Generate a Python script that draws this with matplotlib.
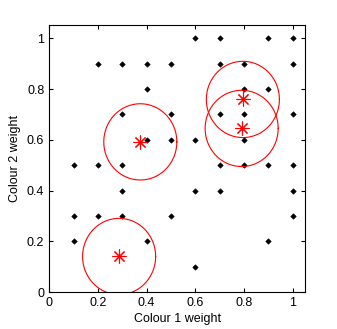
import numpy as np
import matplotlib
matplotlib.use('Agg')
import matplotlib.pyplot as plt

plt.rcParams['font.family'] = ['Liberation Sans', 'DejaVu Sans']

# Data points (colour 1 weight, colour 2 weight)
x_pts = [0.6, 0.7, 0.9, 1.0,
         0.2, 0.3, 0.4, 0.5, 0.7, 0.8, 1.0,
         0.4, 0.8, 0.9,
         0.3, 0.5, 0.7, 0.8, 1.0,
         0.4, 0.5, 0.6, 0.8,
         0.1, 0.2, 0.3, 0.7, 0.8, 0.9, 1.0,
         0.3, 0.6, 0.7, 1.0,
         0.1, 0.2, 0.3, 0.5, 1.0,
         0.1, 0.4, 0.9,
         0.6]
y_pts = [1.0] * 4 + [0.9] * 7 + [0.8] * 3 + [0.7] * 5 + [0.6] * 4 + \
        [0.5] * 7 + [0.4] * 4 + [0.3] * 5 + [0.2] * 3 + [0.1] * 1

# Cluster centres and radius
cx = [0.374, 0.795, 0.790, 0.287]
cy = [0.592, 0.759, 0.645, 0.141]
radius = 0.15

fig = plt.figure(figsize=(3.37, 3.29), dpi=100)
ax = fig.add_axes([0.146, 0.1115, 0.759, 0.811])

ax.plot(x_pts, y_pts, linestyle='none', marker='D', markersize=2.8,
        color='black', markeredgewidth=0.4)

t = np.linspace(0, 2 * np.pi, 200)
for x0, y0 in zip(cx, cy):
    ax.plot(x0 + radius * np.cos(t), y0 + radius * np.sin(t), color='red', linewidth=0.8)
ax.plot(cx, cy, linestyle='none', marker=(8, 2, 0), markersize=10,
        color='red', markeredgewidth=0.8)

ax.set_xlim(0, 1.05)
ax.set_ylim(0, 1.05)
ax.set_xticks([0, 0.2, 0.4, 0.6, 0.8, 1])
ax.set_yticks([0, 0.2, 0.4, 0.6, 0.8, 1])
ax.set_xticklabels(['0', '0.2', '0.4', '0.6', '0.8', '1'])
ax.set_yticklabels(['0', '0.2', '0.4', '0.6', '0.8', '1'])
ax.tick_params(direction='in', top=True, right=True, length=3, labelsize=9)
ax.set_xlabel('Colour 1 weight', fontsize=9, labelpad=3)
ax.set_ylabel('Colour 2 weight', fontsize=9, labelpad=4)

plt.savefig('out.png', dpi=100)
